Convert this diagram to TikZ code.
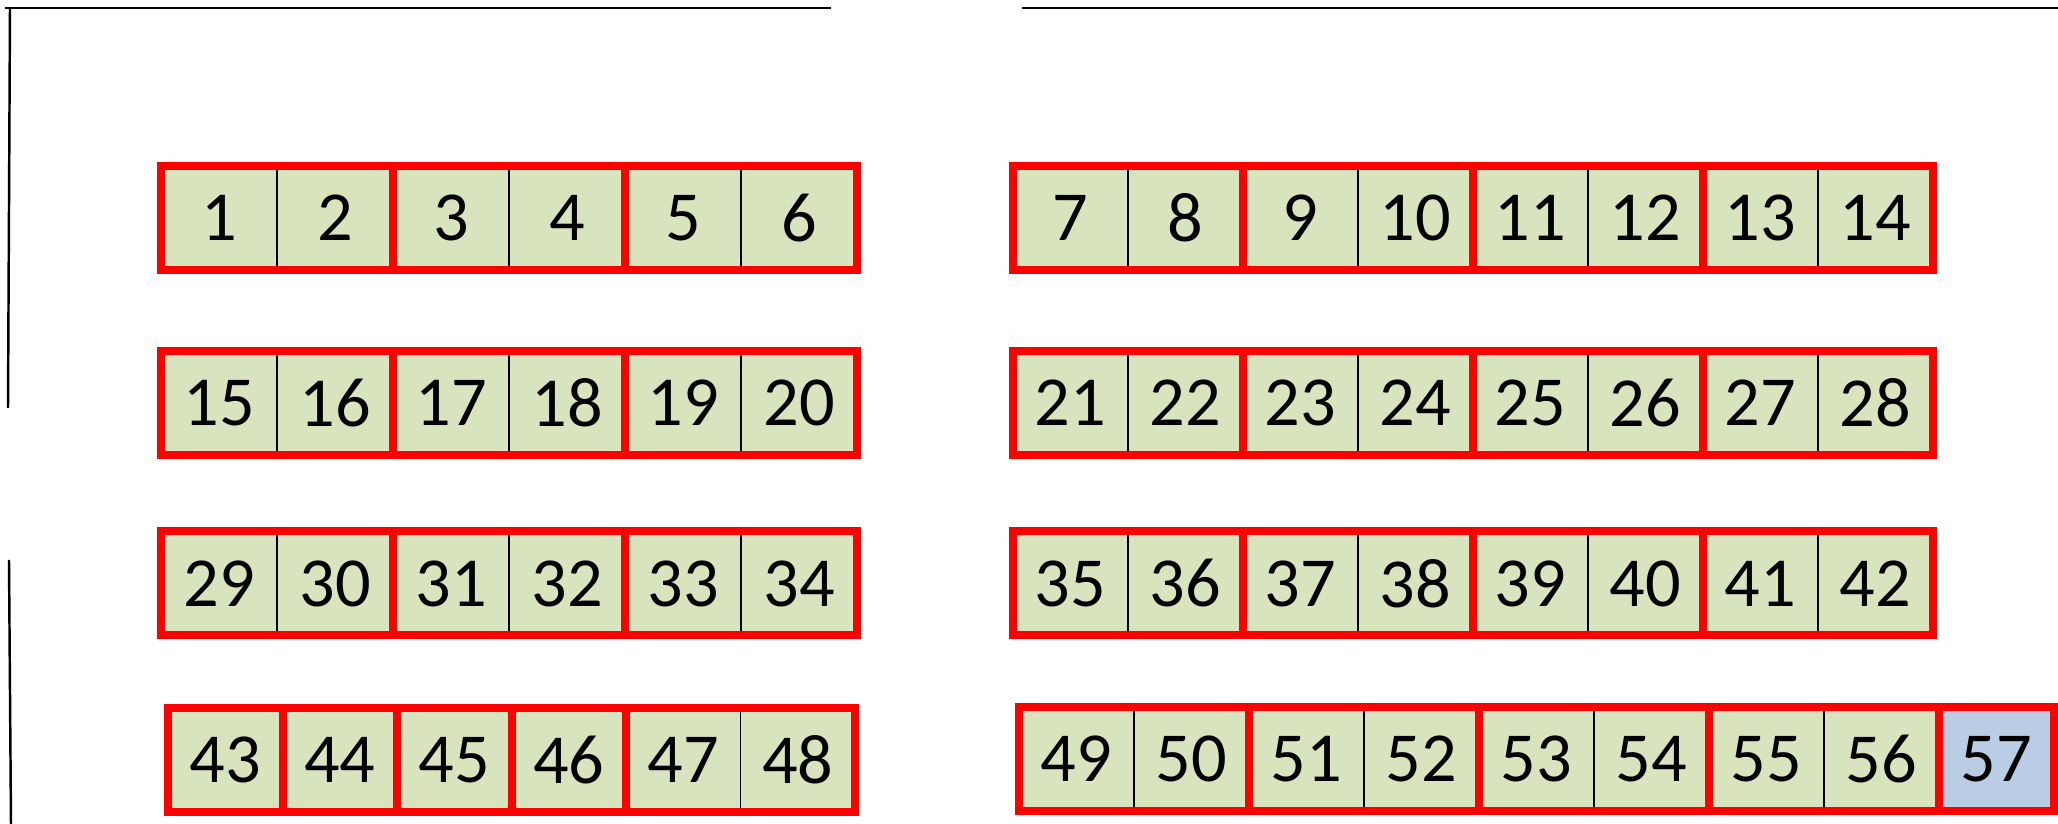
\documentclass[tikz,border=0pt]{standalone}
\usepackage{fontspec}
\setmainfont{Carlito}
\usepackage{xcolor}
\usetikzlibrary{positioning}
\definecolor{cellgreen}{HTML}{D7E4BD}
\definecolor{cellblue}{HTML}{B9CDE5}

\begin{document}
\begin{tikzpicture}[
  x=1cm, y=1cm,
  font=\fontsize{20}{24}\selectfont,
  cell/.style={draw=black, line width=0.4pt, fill=cellgreen, minimum width=1.15cm, minimum height=1.04cm, inner sep=0pt, outer sep=0pt},
  grp/.style={draw=red, line width=0.08cm},
  wall/.style={draw=black, line width=0.7pt}]

\useasboundingbox (0,0) rectangle (20.58,-8.24);

% walls
\draw[wall] (0.05,-0.08) -- (8.31,-0.08);
\draw[wall] (10.22,-0.08) -- (20.58,-0.08);
\draw[wall] (0.10,-0.08) -- (0.08,-4.08);
\draw[wall] (0.09,-5.60) -- (0.11,-8.24);

% left block
\foreach \n [count=\i from 0] in {1,...,6}
  \node[cell, minimum width=1.16cm] (c\n) at ({2.19+1.16*\i},-2.18) {\n};
\foreach \n [count=\i from 0] in {15,...,20}
  \node[cell, minimum width=1.16cm] (c\n) at ({2.19+1.16*\i},-4.03) {\n};
\foreach \n [count=\i from 0] in {29,...,34}
  \node[cell, minimum width=1.16cm] (c\n) at ({2.19+1.16*\i},-5.835) {\n};
\foreach \n [count=\i from 0] in {43,...,48}
  \node[cell, minimum width=1.145cm] (c\n) at ({2.2525+1.145*\i},-7.60) {\n};

% right block
\foreach \n [count=\i from 0] in {7,...,14}
  \node[cell] (c\n) at ({10.705+1.15*\i},-2.18) {\n};
\foreach \n [count=\i from 0] in {21,...,28}
  \node[cell] (c\n) at ({10.705+1.15*\i},-4.03) {\n};
\foreach \n [count=\i from 0] in {35,...,42}
  \node[cell] (c\n) at ({10.705+1.15*\i},-5.835) {\n};
\foreach \n [count=\i from 0] in {49,...,56}
  \node[cell] (c\n) at ({10.765+1.15*\i},-7.59) {\n};
\node[cell, fill=cellblue, right=0pt of c56] (c57) {57};

% groups
\foreach \a/\b in {1/2,3/4,5/6,7/8,9/10,11/12,13/14,
                   15/16,17/18,19/20,21/22,23/24,25/26,27/28,
                   29/30,31/32,33/34,35/36,37/38,39/40,41/42,
                   43/43,44/44,45/45,46/46,47/48,
                   49/50,51/52,53/54,55/56,57/57}
  \draw[grp] (c\a.north west) rectangle (c\b.south east);
\end{tikzpicture}
\end{document}
